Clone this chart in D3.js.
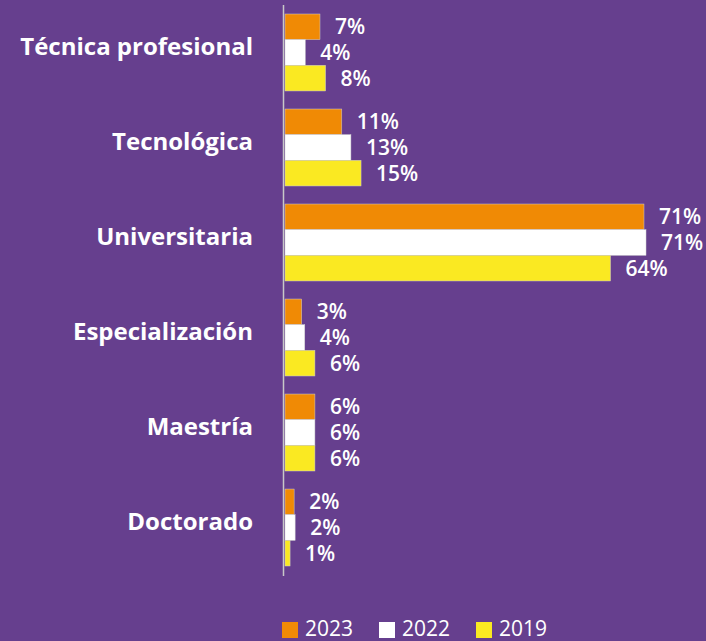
<!DOCTYPE html>
<html>
<head>
<meta charset="utf-8">
<script src="https://cdn.jsdelivr.net/npm/d3@7"></script>
<style>
  html, body { margin: 0; padding: 0; background: #663f8e; }
  svg { display: block; }
</style>
</head>
<body>
<div id="chart"></div>
<script>
// data
const categories = ["Técnica profesional", "Tecnológica", "Universitaria", "Especialización", "Maestría", "Doctorado"];
const years = ["2023", "2022", "2019"];
const values2023 = [6.9, 11.2, 70.8, 3.3, 5.9, 1.8];
const values2022 = [4.0, 13.0, 71.2, 3.9, 5.9, 2.0];
const values2019 = [8.0, 15.0, 64.2, 5.9, 5.9, 1.0];
const colors = ["#f08a05", "#ffffff", "#fae922"];

const width = 706;
const height = 641;
const left = 285;

const series = [values2023, values2022, values2019];

const svg = d3.select("#chart")
  .append("svg")
  .attr("width", width)
  .attr("height", height);

svg.append("rect")
  .attr("width", width)
  .attr("height", height)
  .attr("fill", "#663f8e");

const y = d3.scaleBand()
  .domain(categories)
  .range([4.5, 575.5])
  .paddingInner(0.19)
  .paddingOuter(0.1);

const ySub = d3.scaleBand()
  .domain(years)
  .range([0, y.bandwidth()]);

// 71% ends near x=645
const x = d3.scaleLinear()
  .domain([0, 71])
  .range([left, 645]);

const font = "'Open Sans', 'DejaVu Sans', sans-serif";

const groups = svg.append("g")
  .selectAll("g")
  .data(categories)
  .join("g")
  .attr("transform", d => "translate(0," + y(d) + ")");

groups.selectAll("rect")
  .data((d, i) => years.map((yr, j) => ({ year: yr, value: series[j][i], color: colors[j] })))
  .join("rect")
  .attr("x", x(0))
  .attr("y", d => ySub(d.year))
  .attr("width", d => x(d.value) - x(0))
  .attr("height", ySub.bandwidth())
  .attr("fill", d => d.color)
  .attr("stroke", "#cfcfcf")
  .attr("stroke-width", 0.5);

groups.selectAll("text")
  .data((d, i) => years.map((yr, j) => ({ year: yr, value: series[j][i] })))
  .join("text")
  .attr("x", d => x(d.value) + 15)
  .attr("y", d => ySub(d.year) + ySub.bandwidth() / 2)
  .attr("dy", "0.36em")
  .attr("fill", "#ffffff")
  .attr("font-family", font)
  .attr("font-weight", 600)
  .attr("font-size", 21)
  .text(d => Math.round(d.value) + "%");

// category labels
svg.append("g")
  .selectAll("text")
  .data(categories)
  .join("text")
  .attr("x", 253)
  .attr("y", d => y(d) + y.bandwidth() / 2 - 6)
  .attr("dy", "0.36em")
  .attr("text-anchor", "end")
  .attr("fill", "#ffffff")
  .attr("font-family", font)
  .attr("font-weight", 700)
  .attr("font-size", 24)
  .text(d => d);

// axis line
svg.append("line")
  .attr("x1", 283.5)
  .attr("x2", 283.5)
  .attr("y1", 5)
  .attr("y2", 576)
  .attr("stroke", "#c8c8c8")
  .attr("stroke-width", 1.5);

// legend
const legendX = [282, 379, 476];
const legend = svg.append("g")
  .selectAll("g")
  .data(years)
  .join("g")
  .attr("transform", (d, i) => "translate(" + legendX[i] + ",622)");

legend.append("rect")
  .attr("width", 16)
  .attr("height", 16)
  .attr("fill", (d, i) => colors[i]);

legend.append("text")
  .attr("x", 23)
  .attr("y", 13.5)
  .attr("fill", "#ffffff")
  .attr("font-family", font)
  .attr("font-weight", 400)
  .attr("font-size", 21)
  .text(d => d);
</script>
</body>
</html>
